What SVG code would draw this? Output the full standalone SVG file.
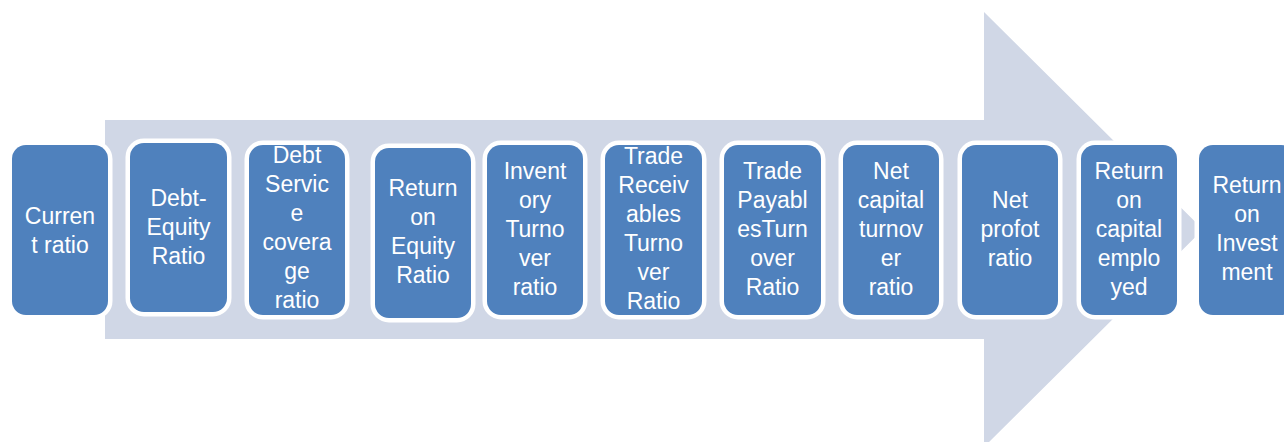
<svg xmlns="http://www.w3.org/2000/svg" width="1284" height="442" viewBox="0 0 1284 442">
  <style>
    .box { fill: #4F81BD; stroke: #FFFFFF; stroke-width: 9; paint-order: stroke; }
    .lbl { fill: #FFFFFF; font-family: "Liberation Sans", Arial, sans-serif; font-size: 23px; text-anchor: middle; }
  </style>
  <rect width="1284" height="442" fill="#FFFFFF"/>
  <!-- background block arrow -->
  <g id="arrow">
    <polygon points="105,120 984,120 984,12 1203,229.5 984,447 984,339 105,339" fill="#D0D7E6"/>
  </g>
  <g id="connectors"></g>

  <g id="n1">
    <rect class="box" x="12" y="145" width="96" height="170" rx="14"/>
    <text class="lbl" x="60" y="224">Curren</text>
    <text class="lbl" x="60" y="253">t ratio</text>
  </g>
  <g id="n2">
    <rect class="box" x="130" y="143" width="97" height="169" rx="14"/>
    <text class="lbl" x="178.5" y="206">Debt-</text>
    <text class="lbl" x="178.5" y="235">Equity</text>
    <text class="lbl" x="178.5" y="264">Ratio</text>
  </g>
  <g id="n3">
    <rect class="box" x="249" y="145" width="96" height="170" rx="14"/>
    <text class="lbl" x="297" y="163">Debt</text>
    <text class="lbl" x="297" y="192">Servic</text>
    <text class="lbl" x="297" y="221">e</text>
    <text class="lbl" x="297" y="250">covera</text>
    <text class="lbl" x="297" y="279">ge</text>
    <text class="lbl" x="297" y="308">ratio</text>
  </g>
  <g id="n4">
    <rect class="box" x="375" y="148" width="96" height="170" rx="14"/>
    <text class="lbl" x="423" y="196">Return</text>
    <text class="lbl" x="423" y="225">on</text>
    <text class="lbl" x="423" y="254">Equity</text>
    <text class="lbl" x="423" y="283">Ratio</text>
  </g>
  <g id="n5">
    <rect class="box" x="487" y="145" width="96" height="170" rx="14"/>
    <text class="lbl" x="535" y="179">Invent</text>
    <text class="lbl" x="535" y="208">ory</text>
    <text class="lbl" x="535" y="237">Turno</text>
    <text class="lbl" x="535" y="266">ver</text>
    <text class="lbl" x="535" y="295">ratio</text>
  </g>
  <g id="n6">
    <rect class="box" x="605" y="145" width="97" height="170" rx="14"/>
    <text class="lbl" x="653.5" y="164">Trade</text>
    <text class="lbl" x="653.5" y="193">Receiv</text>
    <text class="lbl" x="653.5" y="222">ables</text>
    <text class="lbl" x="653.5" y="251">Turno</text>
    <text class="lbl" x="653.5" y="280">ver</text>
    <text class="lbl" x="653.5" y="309">Ratio</text>
  </g>
  <g id="n7">
    <rect class="box" x="724" y="145" width="97" height="170" rx="14"/>
    <text class="lbl" x="772.5" y="179">Trade</text>
    <text class="lbl" x="772.5" y="208">Payabl</text>
    <text class="lbl" x="772.5" y="237">esTurn</text>
    <text class="lbl" x="772.5" y="266">over</text>
    <text class="lbl" x="772.5" y="295">Ratio</text>
  </g>
  <g id="n8">
    <rect class="box" x="843" y="145" width="96" height="170" rx="14"/>
    <text class="lbl" x="891" y="179">Net</text>
    <text class="lbl" x="891" y="208">capital</text>
    <text class="lbl" x="891" y="237">turnov</text>
    <text class="lbl" x="891" y="266">er</text>
    <text class="lbl" x="891" y="295">ratio</text>
  </g>
  <g id="n9">
    <rect class="box" x="962" y="145" width="96" height="170" rx="14"/>
    <text class="lbl" x="1010" y="208">Net</text>
    <text class="lbl" x="1010" y="237">profot</text>
    <text class="lbl" x="1010" y="266">ratio</text>
  </g>
  <g id="n10">
    <rect class="box" x="1081" y="145" width="96" height="170" rx="14"/>
    <text class="lbl" x="1129" y="179">Return</text>
    <text class="lbl" x="1129" y="208">on</text>
    <text class="lbl" x="1129" y="237">capital</text>
    <text class="lbl" x="1129" y="266">emplo</text>
    <text class="lbl" x="1129" y="295">yed</text>
  </g>
  <g id="n11">
    <rect class="box" x="1199" y="145" width="96" height="170" rx="14"/>
    <text class="lbl" x="1247" y="193">Return</text>
    <text class="lbl" x="1247" y="222">on</text>
    <text class="lbl" x="1247" y="251">Invest</text>
    <text class="lbl" x="1247" y="280">ment</text>
  </g>
</svg>
